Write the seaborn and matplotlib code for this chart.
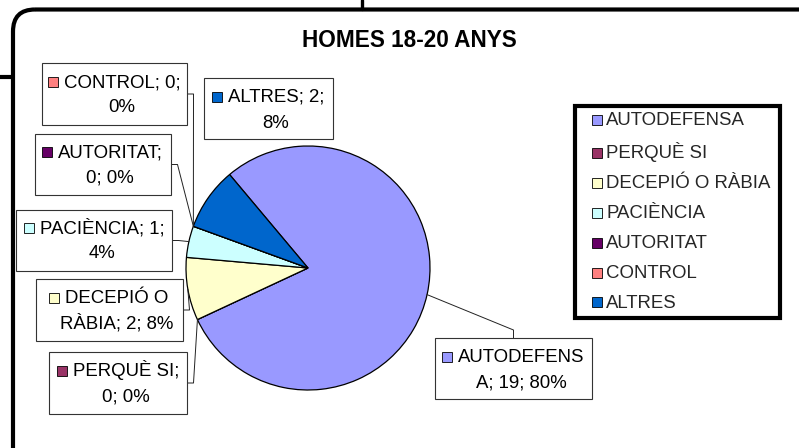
import matplotlib
matplotlib.use("Agg")
import matplotlib.pyplot as plt
import seaborn as sns
import numpy as np
from matplotlib.patches import Rectangle, FancyBboxPatch, Patch
from matplotlib.lines import Line2D
from matplotlib.legend_handler import HandlerPatch

# ---------------- data ----------------
categories = ["AUTODEFENSA", "PERQUÈ SI", "DECEPIÓ O RÀBIA", "PACIÈNCIA",
              "AUTORITAT", "CONTROL", "ALTRES"]
values = [19, 0, 2, 1, 0, 0, 2]
percent_labels = ["80%", "0%", "8%", "4%", "0%", "0%", "8%"]
colors = ["#9999FF", "#993366", "#FFFFCC", "#CCFFFF", "#660066", "#FF8080", "#0066CC"]
title = "HOMES 18-20 ANYS"
# characters on the first line of each wrapped data label
wrap_at = [10, 10, 9, 13, 10, 11, 10]

# ---------------- layout (pixels) ----------------
W, H = 799, 448
PIE_CX, PIE_CY, PIE_R = 308, 268, 122
label_boxes = [(435, 338, 592, 399), (49, 352, 187, 414), (36, 279, 183, 341),
               (16, 210, 172, 271), (35, 134, 171, 195), (42, 63, 187, 125),
               (204, 78, 333, 139)]
label_cx = [521, 126, 117, 102, 110, 122, 276]
label_base = [362, 376, 303, 233, 157, 87, 102]
leader_side = ["top", "right", "right", "right", "right", "right", None]
leader_angle_override = {0: -12.6}
FS = 13.4

sns.set_theme(style="white")
plt.rcParams["font.family"] = ["Liberation Sans", "DejaVu Sans"]

fig = plt.figure(figsize=(W / 100, H / 100), dpi=100)
fig.patch.set_facecolor("white")

# pie axes
pax = fig.add_axes([(PIE_CX - PIE_R) / W, (H - PIE_CY - PIE_R) / H,
                    2 * PIE_R / W, 2 * PIE_R / H])
wedges, _ = pax.pie(values, colors=colors, startangle=130, counterclock=False,
                    radius=1, wedgeprops=dict(edgecolor="black", linewidth=0.9))
pax.set_xlim(-1, 1)
pax.set_ylim(-1, 1)
pax.set_aspect("equal")
pax.axis("off")

# overlay axes in pixel coordinates (y down)
ax = fig.add_axes([0, 0, 1, 1], zorder=5)
ax.set_xlim(0, W)
ax.set_ylim(H, 0)
ax.axis("off")


def edge_point(theta_deg, r=PIE_R):
    t = np.deg2rad(theta_deg)
    return PIE_CX + r * np.cos(t), PIE_CY - r * np.sin(t)


# outer rounded frame and stray lines
ax.add_patch(FancyBboxPatch((13, 9.5), 820, 470,
                            boxstyle="round,pad=0,rounding_size=22",
                            facecolor="none", edgecolor="black", linewidth=3,
                            clip_on=False))
ax.add_line(Line2D([0, 13], [77.5, 77.5], color="black", linewidth=3))
ax.add_line(Line2D([362, 362], [0, 9.5], color="black", linewidth=2.4))

# title
ax.text(409, 47, title, ha="center", va="baseline", fontsize=16.3,
        fontweight="bold", color="black")

# data labels
first_lines = []
for i, cat in enumerate(categories):
    full = f"{cat}; {values[i]}; {percent_labels[i]}"
    l1, l2 = full[:wrap_at[i]].strip(), full[wrap_at[i]:].strip()
    x0, y0, x1, y1 = label_boxes[i]
    ax.add_patch(Rectangle((x0, y0), x1 - x0, y1 - y0, facecolor="white",
                           edgecolor="#333333", linewidth=0.8, zorder=3))
    t1 = ax.text(label_cx[i], label_base[i], l1, ha="center", va="baseline",
                 fontsize=FS, color="black", zorder=4)
    ax.text(label_cx[i], label_base[i] + 25.5, l2, ha="center", va="baseline",
            fontsize=FS, color="black", zorder=4)
    first_lines.append(t1)
    # leader line
    side = leader_side[i]
    if side is not None:
        w = wedges[i]
        ang = leader_angle_override.get(i, (w.theta1 + w.theta2) / 2)
        px, py = edge_point(ang)
        if side == "right":
            ym = (y0 + y1) / 2
            xs = [x1, x1 + 6.5, px]
            ys = [ym, ym, py]
        else:
            xm = (x0 + x1) / 2
            xs = [px, xm, xm]
            ys = [py, y0 - 8, y0]
        ax.add_line(Line2D(xs, ys, color="#222222", linewidth=0.7, zorder=2))

# markers next to first label lines
fig.canvas.draw()
inv = ax.transData.inverted()
for i, t1 in enumerate(first_lines):
    bb = t1.get_window_extent()
    left = inv.transform((bb.x0, bb.y0))[0]
    b = label_base[i]
    ax.add_patch(Rectangle((left - 16, b - 10), 10, 10, facecolor=colors[i],
                           edgecolor="black", linewidth=0.6, zorder=4))


# legend: square swatch placed at the right end of the handle box
def square_right(legend, orig_handle, xdescent, ydescent, width, height, fontsize):
    s = 7.2  # points (~10 px)
    return Rectangle((width - xdescent - s, -ydescent + (height - s) / 2 - 1), s, s)


handles = [Patch(facecolor=c, edgecolor="black", linewidth=0.6) for c in colors]
leg = ax.legend(handles, categories, loc="upper left",
                bbox_to_anchor=(575 / W, (H - 316) / H, 205 / W, 210 / H),
                bbox_transform=fig.transFigure, mode="expand", fontsize=FS,
                handler_map={Patch: HandlerPatch(patch_func=square_right)},
                handlelength=1.13, handleheight=0.7, handletextpad=0.22,
                labelspacing=0.69, borderpad=0.34, borderaxespad=0,
                frameon=True, fancybox=False, framealpha=1)
fr = leg.get_frame()
fr.set_edgecolor("black")
fr.set_linewidth(3)
fr.set_facecolor("white")
leg.set_zorder(6)

fig.savefig("out.png", dpi=100, facecolor="white")
